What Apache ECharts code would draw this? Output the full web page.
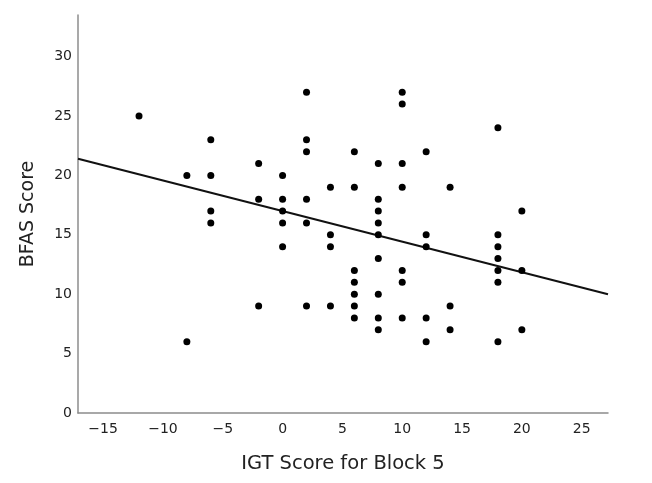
<!DOCTYPE html>
<html>
<head>
<meta charset="utf-8">
<script src="https://cdn.jsdelivr.net/npm/echarts@6/dist/echarts.min.js"></script>
<style>html,body{margin:0;padding:0;background:#fff}#c{width:652px;height:483px}</style>
</head>
<body>
<div id="c"></div>
<script>
// IGT score (x) and BFAS score (y) for each participant
const igtScores = [
  -12,
  -8, -8,
  -6, -6, -6, -6,
  -2, -2, -2,
  0, 0, 0, 0, 0,
  2, 2, 2, 2, 2, 2,
  4, 4, 4, 4,
  6, 6, 6, 6, 6, 6, 6,
  8, 8, 8, 8, 8, 8, 8, 8, 8,
  10, 10, 10, 10, 10, 10, 10,
  12, 12, 12, 12, 12,
  14, 14, 14,
  18, 18, 18, 18, 18, 18, 18,
  20, 20, 20
];
const bfasScores = [
  25,
  20, 6,
  23, 20, 17, 16,
  21, 18, 9,
  20, 18, 17, 16, 14,
  27, 23, 22, 18, 16, 9,
  19, 15, 14, 9,
  22, 19, 12, 11, 10, 9, 8,
  21, 18, 17, 16, 15, 13, 10, 8, 7,
  27, 26, 21, 19, 12, 11, 8,
  22, 15, 14, 8, 6,
  19, 9, 7,
  24, 15, 14, 13, 12, 11, 6,
  17, 12, 7
];
// Fit line endpoints
const fitX = [-17.1, 27.2];
const fitY = [21.4, 10.0];

const points = igtScores.map((x, i) => [x, bfasScores[i]]);
const fitLine = fitX.map((x, i) => [x, fitY[i]]);

const chart = echarts.init(document.getElementById('c'), null, {renderer: 'canvas'});
const axisFont = 'DejaVu Sans';
const mult5 = v => {
  const r = Math.round(v);
  if (Math.abs(r - v) > 1e-6 || r % 5 !== 0) return '';
  return r < 0 ? '\u2212' + Math.abs(r) : String(r);
};
chart.setOption({
  animation: false,
  backgroundColor: '#ffffff',
  grid: {left: 78, right: 44, top: 15, bottom: 70, containLabel: false},
  xAxis: {
    type: 'value',
    min: -17.1, max: 27.2,
    splitNumber: 9,
    minInterval: 5, maxInterval: 5,
    name: 'IGT Score for Block 5',
    nameLocation: 'middle',
    nameGap: 41,
    nameTextStyle: {fontFamily: axisFont, fontSize: 19.5, color: '#222'},
    axisLine: {show: true, onZero: false, lineStyle: {color: '#8c8c8c', width: 1.5}},
    axisTick: {show: false},
    splitLine: {show: false},
    axisLabel: {fontFamily: axisFont, fontSize: 14, color: '#222', margin: 9, formatter: mult5}
  },
  yAxis: {
    type: 'value',
    min: 0, max: 33.5,
    splitNumber: 7,
    minInterval: 5, maxInterval: 5,
    name: 'BFAS Score',
    nameLocation: 'middle',
    nameGap: 40,
    nameTextStyle: {fontFamily: axisFont, fontSize: 19, color: '#222'},
    axisLine: {show: true, onZero: false, lineStyle: {color: '#8c8c8c', width: 1.5}},
    axisTick: {show: false},
    splitLine: {show: false},
    axisLabel: {fontFamily: axisFont, fontSize: 14, color: '#222', margin: 6, formatter: mult5}
  },
  series: [
    {
      type: 'scatter',
      data: points,
      symbol: 'circle',
      symbolSize: 7,
      itemStyle: {color: '#000', opacity: 1},
      z: 3
    },
    {
      type: 'line',
      data: fitLine,
      showSymbol: false,
      symbol: 'none',
      lineStyle: {color: '#111', width: 2},
      z: 2
    }
  ]
});
</script>
</body>
</html>
